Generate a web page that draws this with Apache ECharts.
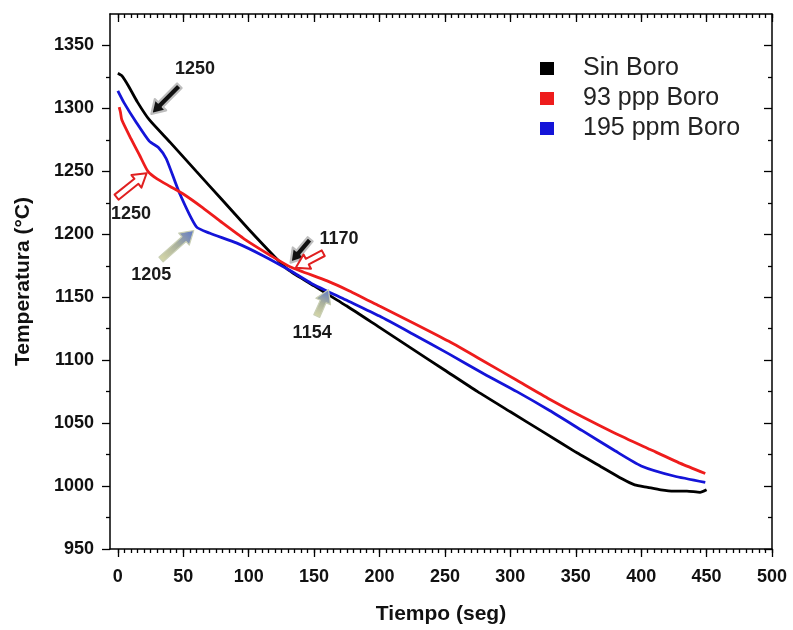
<!DOCTYPE html>
<html><head><meta charset="utf-8">
<script src="https://cdn.jsdelivr.net/npm/echarts@6/dist/echarts.min.js"></script>
<style>html,body{margin:0;padding:0;background:#fff}#c{width:793px;height:630px}</style>
</head><body><div id="c"></div>
<script>
const seriesNames = ['Sin Boro', '93 ppp Boro', '195 ppm Boro'];
const seriesColors = ['#000000', '#ee1c1c', '#1414d8'];

const tBlack = [0, 3, 8, 15, 24, 40, 60, 80, 100, 120, 130, 150, 175, 200, 225, 250, 275, 300, 325, 350, 370, 385, 395, 405, 415, 425, 435, 445, 450];
const yBlack = [1328, 1326, 1318, 1305, 1291, 1273, 1250, 1227, 1204, 1182, 1172, 1159, 1143, 1126, 1109, 1092, 1075, 1059, 1043, 1027, 1015, 1006, 1001, 999, 997, 996, 996, 995, 997];

const tRed = [1, 2, 3, 10, 17, 23, 30, 40, 50, 65, 80, 97, 117, 132, 160, 177, 200, 225, 253, 280, 305, 330, 355, 380, 407, 430, 449];
const yRed = [1301, 1297, 1291, 1276, 1262, 1250, 1244, 1238, 1232, 1221, 1209, 1196, 1183, 1174, 1163, 1155, 1143, 1130, 1115, 1099, 1084, 1069, 1055, 1042, 1029, 1018, 1010];

const tBlue = [0, 5, 14, 24, 31, 37, 47, 60, 70, 91, 111, 132, 148, 174, 200, 225, 253, 280, 305, 330, 355, 380, 400, 425, 449];
const yBlue = [1314, 1304, 1289, 1274, 1269, 1260, 1233, 1206, 1201, 1193, 1183, 1171, 1161, 1148, 1135, 1121, 1105, 1089, 1075, 1060, 1044, 1028, 1016, 1008, 1003];

const xTicks = [0, 50, 100, 150, 200, 250, 300, 350, 400, 450, 500];
const xMinorTicks = Array.from({length: 101}, (_, i) => i * 5);
const yTicks = [950, 1000, 1050, 1100, 1150, 1200, 1250, 1300, 1350];
const yMinorTicks = [975, 1025, 1075, 1125, 1175, 1225, 1275, 1325];

const annLabels = ['1250', '1250', '1205', '1170', '1154'];
const annLabelPos = [[59, 1331], [10, 1216], [25.6, 1168], [169, 1196], [148.5, 1121.7]];
// arrows: [tail, head, style]
const annArrows = [
  [[47, 1318], [25.6, 1295.6], 'black'],
  [[-1, 1229.5], [22, 1248.5], 'red'],
  [[33, 1180], [58, 1203], 'grey'],
  [[147, 1196], [132, 1177.5], 'black'],
  [[157, 1185], [136, 1173.5], 'red'],
  [[152, 1135], [161, 1156], 'grey']
];

const tSets = [tBlack, tRed, tBlue];
const ySets = [yBlack, yRed, yBlue];

const FONT = 'Liberation Sans, Arial, sans-serif';
const chart = echarts.init(document.getElementById('c'), null, {renderer: 'canvas'});

const grid = {left: 110, right: 21, top: 14, bottom: 81};
const axisLineStyle = {color: '#000', width: 1.5};
const plain = v => String(v);

function xAx(pos, vals, len, inside, labels, line) {
  return {
    type: 'value', position: pos, min: -6, max: 500,
    axisLine: {show: line, onZero: false, lineStyle: axisLineStyle},
    axisTick: {show: true, inside: inside, length: len, customValues: vals, lineStyle: {color: '#000', width: 1.3}},
    axisLabel: labels ? {show: true, customValues: xTicks, formatter: plain, fontFamily: FONT, fontWeight: 'bold', fontSize: 18, color: '#111', margin: 19} : {show: false},
    splitLine: {show: false},
    name: labels ? 'Tiempo (seg)' : '', nameLocation: 'middle', nameGap: 55,
    nameTextStyle: {fontFamily: FONT, fontWeight: 'bold', fontSize: 21, color: '#111'}
  };
}
function yAx(pos, vals, len, inside, labels, line) {
  return {
    type: 'value', position: pos, min: 950, max: 1375,
    axisLine: {show: line, onZero: false, lineStyle: axisLineStyle},
    axisTick: {show: true, inside: inside, length: len, customValues: vals, lineStyle: {color: '#000', width: 1.3}},
    axisLabel: labels ? {show: true, customValues: yTicks, formatter: plain, fontFamily: FONT, fontWeight: 'bold', fontSize: 18, color: '#111', margin: 16} : {show: false},
    splitLine: {show: false},
    name: labels ? 'Temperatura (°C)' : '', nameLocation: 'middle', nameGap: 76, nameRotate: 90,
    nameTextStyle: {fontFamily: FONT, fontWeight: 'bold', fontSize: 21, color: '#111'}
  };
}

const series = seriesNames.map((n, i) => ({
  name: n, type: 'line', xAxisIndex: 0, yAxisIndex: 0,
  data: tSets[i].map((t, j) => [t, ySets[i][j]]),
  showSymbol: false, symbol: 'none', smooth: 0.2,
  lineStyle: {color: seriesColors[i], width: 2.8},
  itemStyle: {color: seriesColors[i]},
  z: 3 + (i === 1 ? 1 : 0)
}));

chart.setOption({
  animation: false,
  backgroundColor: '#fff',
  grid: grid,
  legend: {
    orient: 'vertical', left: 535, top: 51, itemGap: 5,
    icon: 'rect', itemWidth: 14, itemHeight: 13,
    textStyle: {fontFamily: FONT, fontSize: 25, lineHeight: 25, color: '#222', padding: [0, 0, 0, 24]},
    data: seriesNames
  },
  xAxis: [
    xAx('bottom', xTicks, 8, false, true, true),
    xAx('bottom', xMinorTicks, 4, false, false, false),
    xAx('top', xTicks, 8, true, false, true),
    xAx('top', xMinorTicks, 4, true, false, false)
  ],
  yAxis: [
    yAx('left', yTicks, 8, false, true, true),
    yAx('left', yMinorTicks, 4, false, false, false),
    yAx('right', yTicks, 8, true, false, true),
    yAx('right', yMinorTicks, 4, true, false, false)
  ],
  series: series
});

function px(p) { return chart.convertToPixel({xAxisIndex: 0, yAxisIndex: 0}, p); }

function arrowPoly(a, b, shaftW, headL, headW) {
  const dx = b[0] - a[0], dy = b[1] - a[1];
  const L = Math.hypot(dx, dy);
  const ux = dx / L, uy = dy / L, nx = -uy, ny = ux;
  const nk = [b[0] - ux * headL, b[1] - uy * headL];
  return [
    [a[0] + nx * shaftW, a[1] + ny * shaftW],
    [nk[0] + nx * shaftW, nk[1] + ny * shaftW],
    [nk[0] + nx * headW, nk[1] + ny * headW],
    [b[0], b[1]],
    [nk[0] - nx * headW, nk[1] - ny * headW],
    [nk[0] - nx * shaftW, nk[1] - ny * shaftW],
    [a[0] - nx * shaftW, a[1] - ny * shaftW]
  ];
}

const graphics = [];
annArrows.forEach(([tail, head, kind]) => {
  const a = px(tail), b = px(head);
  const pts = arrowPoly(a, b, 3.2, 13, 8);
  let style;
  if (kind === 'black') {
    style = {fill: '#111', stroke: '#bdbdbd', lineWidth: 2.2, lineJoin: 'round'};
  } else if (kind === 'red') {
    style = {fill: '#fff', stroke: '#e02020', lineWidth: 2, lineJoin: 'round'};
  } else {
    style = {
      fill: new echarts.graphic.LinearGradient(a[0], a[1], b[0], b[1], [
        {offset: 0, color: '#d4d6a8'}, {offset: 0.5, color: '#a9b09c'}, {offset: 1, color: '#5e78c8'}
      ], true),
      stroke: '#c9cfb4', lineWidth: 1.2, lineJoin: 'round'
    };
  }
  graphics.push({type: 'polygon', shape: {points: pts}, style: style, z: 10});
});
annLabels.forEach((txt, i) => {
  const p = px(annLabelPos[i]);
  graphics.push({
    type: 'text', x: p[0], y: p[1], z: 11,
    style: {text: txt, fontFamily: FONT, fontWeight: 'bold', fontSize: 18, fill: '#1a1a1a', align: 'center', verticalAlign: 'middle'}
  });
});
chart.setOption({graphic: graphics});
</script>
</body></html>
